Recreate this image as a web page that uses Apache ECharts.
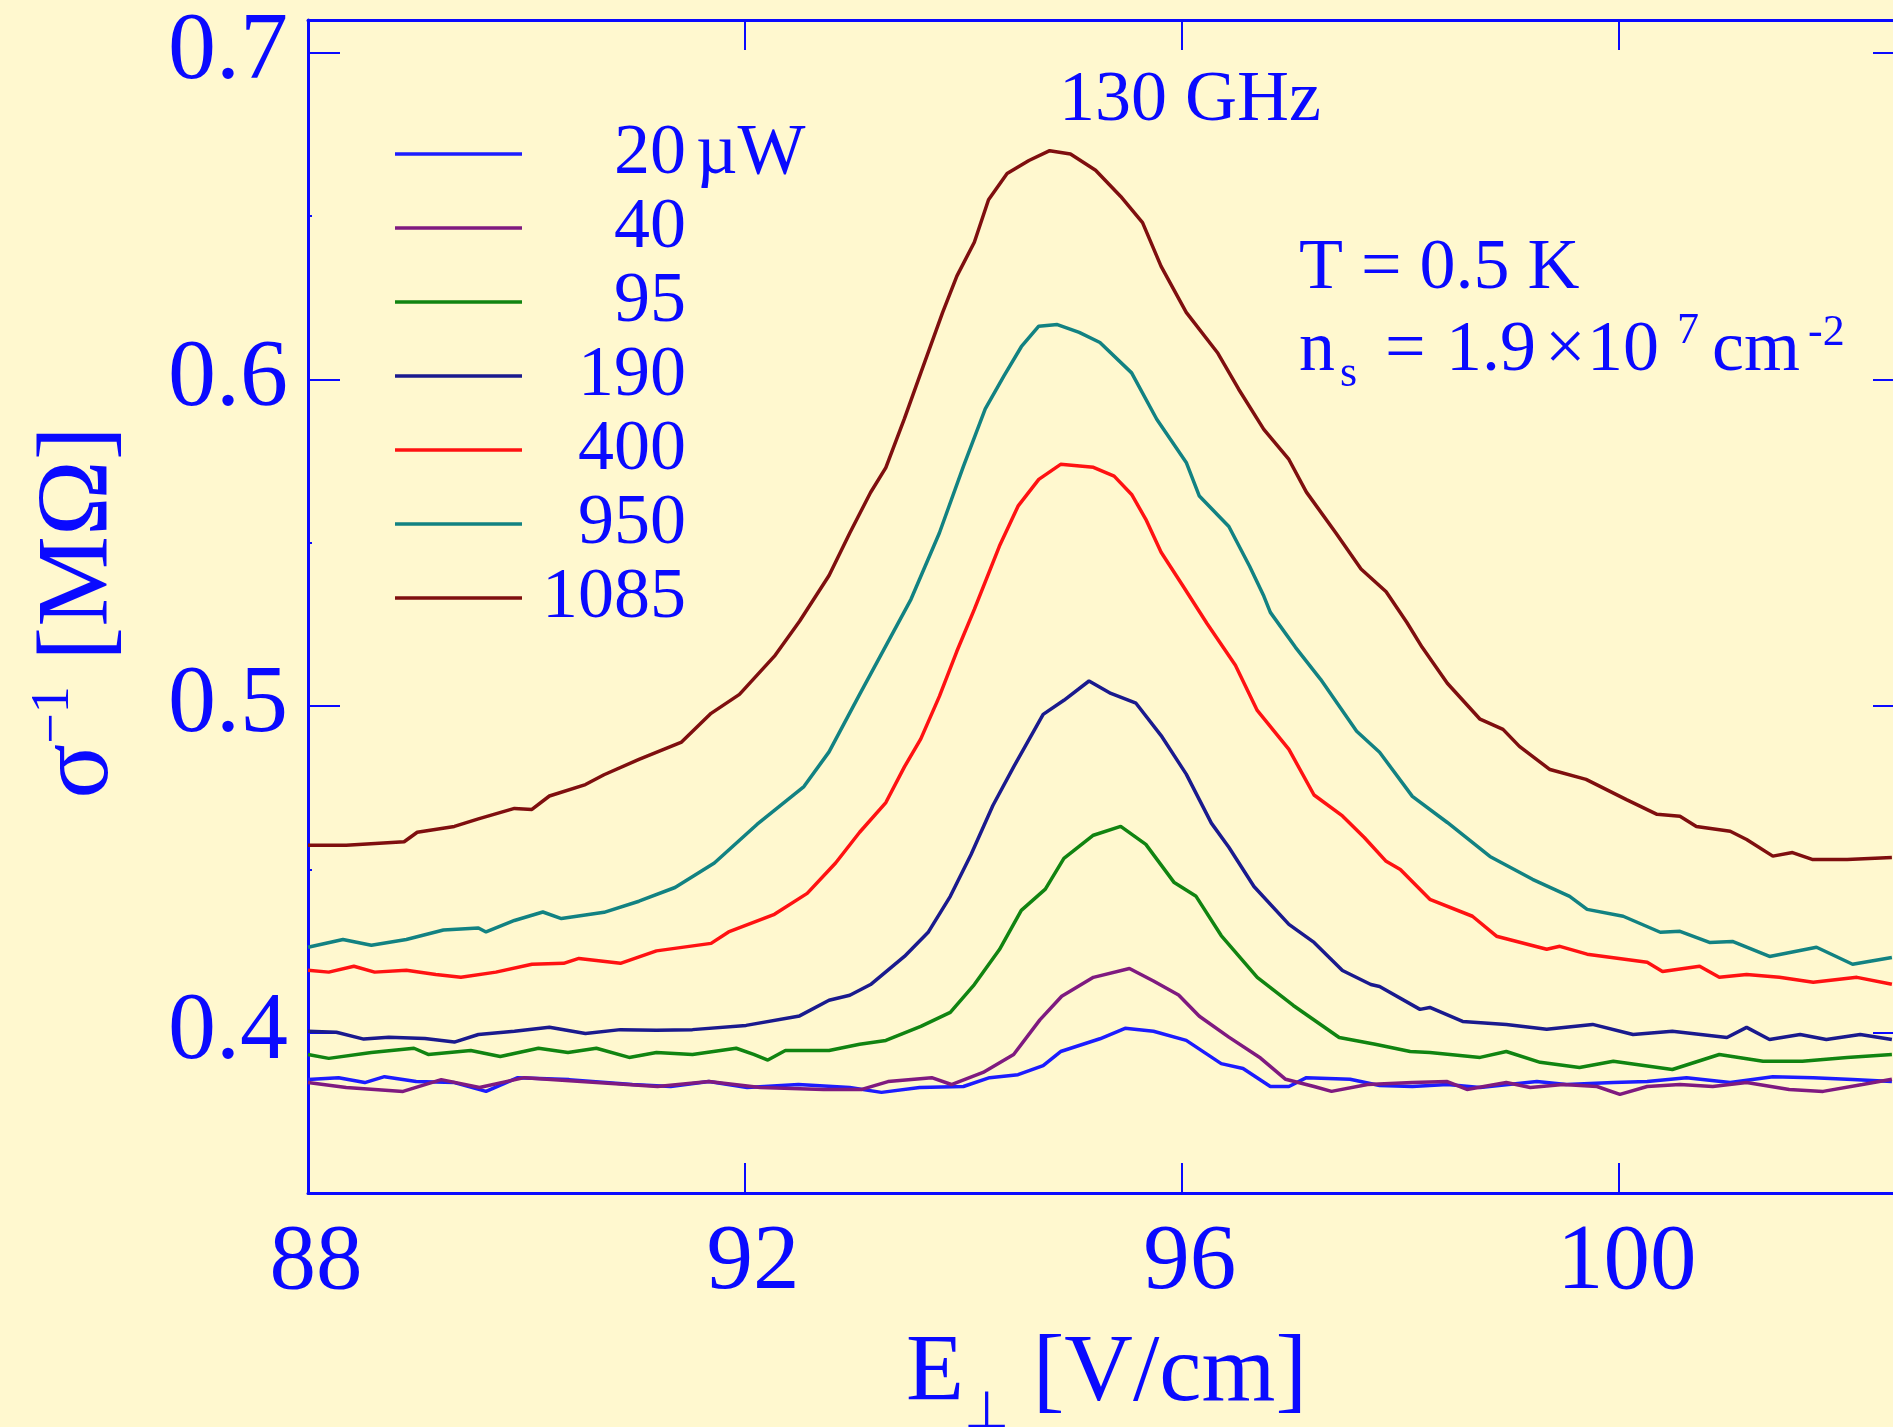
<!DOCTYPE html>
<html>
<head>
<meta charset="utf-8">
<script src="https://cdn.jsdelivr.net/npm/echarts@6/dist/echarts.min.js"></script>
<style>
  html, body { margin: 0; padding: 0; background: #fff8cf; }
  #chart { width: 1893px; height: 1427px; }
</style>
</head>
<body>
<div id="chart"></div>
<script>
// Microwave power of each trace (µW) and its line colour
const powers = ['20', '40', '95', '190', '400', '950', '1085'];
const lineColors = ['#1c1cff', '#7f1a80', '#118411', '#1a1a8e', '#ff1212', '#128282', '#7f0f0f'];

// Tick values
const xTickValues = [88, 92, 96, 100];
const yTickValues = [0.4, 0.5, 0.6, 0.7];
const yMinorValues = [0.45, 0.55, 0.65];

// [E_perp (V/cm), sigma^-1 (MOhm)] for each power
const trace20 = [[88,0.3857],[88.28,0.3863],[88.52,0.3848],[88.7,0.3866],[88.99,0.3851],[89.34,0.3848],[89.63,0.3821],[89.92,0.3863],[90.39,0.3857],[90.97,0.3842],[91.32,0.3836],[91.67,0.3851],[92.02,0.3833],[92.49,0.3842],[92.96,0.3833],[93.25,0.3818],[93.6,0.3833],[94.0,0.3836],[94.24,0.3863],[94.5,0.3872],[94.73,0.39],[94.89,0.3943],[95.25,0.3982],[95.48,0.4014],[95.74,0.4005],[96.04,0.3977],[96.36,0.3906],[96.56,0.3891],[96.81,0.3836],[96.98,0.3836],[97.14,0.3863],[97.54,0.3858],[97.81,0.3839],[98.11,0.3836],[98.43,0.3842],[98.73,0.3833],[99.25,0.3851],[99.52,0.3842],[99.95,0.3848],[100.26,0.3851],[100.62,0.3863],[101.02,0.3848],[101.41,0.3866],[101.78,0.3863],[102.14,0.3857],[102.5,0.3851]];
const trace40 = [[88,0.3848],[88.35,0.3833],[88.87,0.3821],[89.22,0.3857],[89.57,0.3833],[89.98,0.3863],[90.5,0.3851],[91.2,0.3836],[91.67,0.3851],[92.14,0.3833],[92.72,0.3827],[93.07,0.3827],[93.31,0.3851],[93.71,0.3863],[93.89,0.3842],[94.18,0.3879],[94.46,0.3934],[94.7,0.404],[94.9,0.4112],[95.19,0.417],[95.52,0.4197],[95.74,0.4159],[95.97,0.4116],[96.16,0.4051],[96.43,0.3987],[96.72,0.3923],[96.95,0.3858],[97.21,0.3836],[97.37,0.3821],[97.7,0.3842],[98.11,0.3848],[98.43,0.3851],[98.61,0.3827],[98.97,0.3848],[99.19,0.3833],[99.49,0.3842],[99.8,0.3836],[100.01,0.3812],[100.26,0.3836],[100.56,0.3842],[100.86,0.3836],[101.17,0.3848],[101.56,0.3827],[101.87,0.3821],[102.23,0.3842],[102.5,0.3858]];
const trace95 = [[88,0.3934],[88.19,0.3922],[88.58,0.394],[88.97,0.3953],[89.1,0.3934],[89.49,0.3946],[89.76,0.3928],[90.11,0.3953],[90.38,0.394],[90.64,0.3953],[90.94,0.3925],[91.19,0.394],[91.52,0.3934],[91.92,0.3953],[92.08,0.3934],[92.21,0.3917],[92.37,0.3946],[92.77,0.3946],[93.05,0.3965],[93.29,0.3977],[93.61,0.402],[93.88,0.4063],[94.1,0.4148],[94.33,0.4255],[94.53,0.4375],[94.75,0.444],[94.92,0.4534],[95.19,0.4605],[95.44,0.4632],[95.67,0.4577],[95.93,0.446],[96.13,0.4418],[96.36,0.4298],[96.69,0.417],[97.02,0.4084],[97.44,0.3986],[97.77,0.3965],[98.09,0.3943],[98.27,0.394],[98.73,0.3925],[98.97,0.3943],[99.28,0.391],[99.64,0.3894],[99.95,0.3913],[100.49,0.3888],[100.92,0.3934],[101.32,0.3913],[101.68,0.3913],[102.09,0.3925],[102.5,0.3934]];
const trace190 = [[88,0.4005],[88.26,0.4002],[88.51,0.3981],[88.74,0.3987],[89.07,0.3983],[89.34,0.3972],[89.56,0.3995],[89.89,0.4005],[90.21,0.4017],[90.54,0.3998],[90.86,0.401],[91.19,0.4008],[91.52,0.401],[92.01,0.4023],[92.5,0.4052],[92.77,0.41],[92.96,0.4115],[93.15,0.4148],[93.46,0.4234],[93.68,0.4309],[93.88,0.4418],[94.07,0.4546],[94.27,0.4696],[94.46,0.4814],[94.73,0.4975],[94.92,0.5018],[95.15,0.5077],[95.35,0.5039],[95.58,0.5009],[95.81,0.491],[96.04,0.4792],[96.27,0.4642],[96.43,0.4568],[96.66,0.4448],[96.98,0.4332],[97.21,0.4277],[97.47,0.4191],[97.73,0.4148],[97.81,0.4142],[98.18,0.4072],[98.27,0.4078],[98.57,0.4035],[98.97,0.4026],[99.34,0.4011],[99.76,0.4026],[100.13,0.3995],[100.49,0.4005],[100.99,0.3986],[101.17,0.4017],[101.38,0.398],[101.66,0.3995],[101.9,0.398],[102.21,0.3995],[102.5,0.398]];
const trace400 = [[88,0.4192],[88.19,0.4186],[88.42,0.4204],[88.61,0.4186],[88.9,0.4192],[89.17,0.4179],[89.4,0.417],[89.72,0.4186],[90.05,0.421],[90.34,0.4213],[90.48,0.4228],[90.86,0.4213],[91.19,0.4251],[91.69,0.4274],[91.85,0.4309],[92.27,0.4363],[92.57,0.4427],[92.83,0.452],[93.05,0.4614],[93.29,0.4705],[93.46,0.4814],[93.61,0.49],[93.78,0.503],[93.94,0.5168],[94.1,0.5296],[94.33,0.549],[94.5,0.5612],[94.69,0.5694],[94.89,0.574],[95.19,0.5731],[95.38,0.5704],[95.54,0.5648],[95.67,0.5572],[95.81,0.5471],[96.0,0.5373],[96.23,0.5253],[96.49,0.5125],[96.69,0.4987],[96.98,0.4868],[97.21,0.4728],[97.47,0.4664],[97.67,0.4598],[97.87,0.4525],[98.0,0.45],[98.27,0.4409],[98.66,0.4357],[98.88,0.4296],[99.34,0.4256],[99.46,0.4265],[99.71,0.4241],[100.26,0.4216],[100.4,0.4188],[100.74,0.4204],[100.92,0.417],[101.17,0.4179],[101.47,0.417],[101.78,0.4155],[102.18,0.417],[102.5,0.4149]];
const trace950 = [[88,0.4262],[88.32,0.4286],[88.58,0.4268],[88.9,0.4286],[89.24,0.4315],[89.56,0.4321],[89.63,0.4309],[89.89,0.4344],[90.15,0.437],[90.32,0.435],[90.71,0.4369],[91.03,0.4403],[91.36,0.4445],[91.72,0.452],[92.11,0.4638],[92.54,0.4754],[92.77,0.486],[93.05,0.5036],[93.52,0.5327],[93.78,0.553],[94.0,0.5734],[94.2,0.591],[94.37,0.601],[94.53,0.61],[94.69,0.6163],[94.86,0.6168],[95.06,0.6144],[95.25,0.6113],[95.54,0.602],[95.77,0.5878],[96.04,0.5746],[96.16,0.5643],[96.43,0.555],[96.62,0.5428],[96.75,0.5337],[96.81,0.5287],[97.04,0.518],[97.27,0.5082],[97.6,0.4923],[97.81,0.4859],[98.11,0.4724],[98.43,0.4644],[98.82,0.454],[99.21,0.447],[99.55,0.4418],[99.71,0.4378],[100.04,0.4357],[100.38,0.4308],[100.56,0.4311],[100.83,0.4277],[101.04,0.428],[101.38,0.4234],[101.81,0.4262],[102.14,0.421],[102.5,0.4231]];
const trace1085 = [[88,0.4574],[88.35,0.4574],[88.88,0.4585],[89.0,0.4614],[89.34,0.4632],[89.56,0.4655],[89.89,0.4687],[90.05,0.4684],[90.21,0.4725],[90.54,0.476],[90.71,0.479],[91.03,0.4837],[91.42,0.489],[91.69,0.4978],[91.95,0.5036],[92.27,0.5153],[92.5,0.526],[92.77,0.54],[92.96,0.553],[93.15,0.5654],[93.29,0.573],[93.46,0.588],[93.61,0.602],[93.81,0.6205],[93.94,0.6316],[94.1,0.642],[94.23,0.655],[94.4,0.663],[94.6,0.667],[94.79,0.67],[94.98,0.669],[95.21,0.664],[95.44,0.656],[95.64,0.648],[95.81,0.6346],[96.04,0.6205],[96.33,0.608],[96.52,0.597],[96.75,0.5847],[96.98,0.5755],[97.14,0.5655],[97.41,0.553],[97.64,0.542],[97.87,0.535],[98.06,0.5256],[98.2,0.518],[98.43,0.507],[98.73,0.496],[98.94,0.4929],[99.09,0.4877],[99.37,0.4806],[99.7,0.4776],[100.07,0.4714],[100.35,0.4669],[100.56,0.4663],[100.71,0.4632],[101.02,0.4617],[101.17,0.4592],[101.41,0.4541],[101.59,0.4552],[101.77,0.4531],[102.09,0.4531],[102.5,0.4537]];
const traces = [trace20, trace40, trace95, trace190, trace400, trace950, trace1085];

const FONT = '"Liberation Serif", "Times New Roman", serif';
const BLUE = '#0a0aff';
const X_MIN = 88, X_MAX = 102.62, Y_MIN = 0.351, Y_MAX = 0.71;

const chart = echarts.init(document.getElementById('chart'), null, { renderer: 'canvas' });

const frameLine = { show: true, onZero: false, lineStyle: { color: BLUE, width: 3 } };
const noSplit = { show: false };

// Pieces of the density annotation: [text, left, top, fontSize]
const densityParts = [
  ['n', 1299, 314.7, 72],
  ['s', 1340, 352.4, 44],
  ['=', 1385, 314.7, 72],
  ['1.9', 1446, 314.7, 72],
  ['×', 1545, 314.7, 72],
  ['10', 1587, 314.7, 72],
  ['7', 1677, 309.4, 44],
  ['cm', 1712, 314.7, 72],
  ['-2', 1808, 311.4, 44]
];

const annotations = [
  { type: 'text', left: 1059, top: 65.5, style: { text: '130 GHz', font: '72px ' + FONT, fill: BLUE } },
  { type: 'text', left: 1299, top: 233.5, style: { text: 'T = 0.5 K', font: '72px ' + FONT, fill: BLUE } }
].concat(densityParts.map(function (p) {
  return { type: 'text', left: p[1], top: p[2], style: { text: p[0], font: p[3] + 'px ' + FONT, fill: BLUE } };
}));

const option = {
  backgroundColor: '#fff8cf',
  animation: false,
  grid: { left: 308, top: 20, width: 1597, height: 1173, containLabel: false, outerBoundsMode: 'none' },
  legend: {
    orient: 'vertical',
    left: 395,
    top: 118,
    padding: 0,
    icon: 'rect',
    itemWidth: 127,
    itemHeight: 3.5,
    itemGap: 2,
    selectedMode: false,
    data: powers,
    formatter: function (name) {
      return name === powers[0] ? '{num|' + name + '}{unit|µW}' : '{num|' + name + '}';
    },
    textStyle: {
      rich: {
        num: { width: 159, align: 'right', fontFamily: FONT, fontSize: 72, color: BLUE, lineHeight: 73.5 },
        unit: { align: 'right', fontFamily: FONT, fontSize: 72, color: BLUE, lineHeight: 73.5, padding: [0, 0, 0, 10] }
      }
    }
  },
  xAxis: [
    {
      type: 'value', position: 'bottom', min: X_MIN, max: X_MAX, interval: 4,
      axisLine: frameLine,
      axisTick: { show: true, inside: true, length: 30, customValues: [92, 96, 100], lineStyle: { color: BLUE, width: 2 } },
      axisLabel: { customValues: xTickValues, color: BLUE, fontFamily: FONT, fontSize: 93, margin: 24, padding: [0, 0, 0, 16] },
      splitLine: noSplit,
      name: '{e|E}{sub|⊥}{e| [V/cm]}',
      nameLocation: 'middle',
      nameGap: 117,
      nameTextStyle: {
        rich: {
          e: { fontFamily: FONT, fontSize: 95, color: BLUE, lineHeight: 130 },
          sub: { fontFamily: FONT, fontSize: 52, color: BLUE, lineHeight: 4, verticalAlign: 'bottom' }
        }
      }
    },
    {
      type: 'value', position: 'top', min: X_MIN, max: X_MAX, interval: 4,
      axisLine: frameLine,
      axisTick: { show: true, inside: true, length: 30, customValues: [92, 96, 100], lineStyle: { color: BLUE, width: 2 } },
      axisLabel: { show: false },
      splitLine: noSplit
    }
  ],
  yAxis: [
    {
      type: 'value', position: 'left', min: Y_MIN, max: Y_MAX,
      axisLine: frameLine,
      axisTick: { show: true, inside: true, length: 32, customValues: yTickValues, lineStyle: { color: BLUE, width: 2 } },
      axisLabel: {
        customValues: yTickValues, color: BLUE, fontFamily: FONT, fontSize: 96, margin: 20,
        formatter: function (v) { return v.toFixed(1); }
      },
      splitLine: noSplit,
      name: '{s|σ}{sup|−1}{s| [MΩ]}',
      nameLocation: 'middle',
      nameRotate: 90,
      nameGap: 175,
      nameTextStyle: {
        padding: [0, 12, 0, 0],
        rich: {
          s: { fontFamily: FONT, fontSize: 102, color: BLUE, lineHeight: 106 },
          sup: { fontFamily: FONT, fontSize: 54, color: BLUE, lineHeight: 42, verticalAlign: 'top' }
        }
      }
    },
    {
      type: 'value', position: 'right', min: Y_MIN, max: Y_MAX,
      axisLine: frameLine,
      axisTick: { show: true, inside: true, length: 32, customValues: yTickValues, lineStyle: { color: BLUE, width: 2 } },
      axisLabel: { show: false },
      splitLine: noSplit
    },
    {
      type: 'value', position: 'left', min: Y_MIN, max: Y_MAX,
      axisLine: { show: false },
      axisTick: { show: true, inside: true, length: 4, customValues: yMinorValues, lineStyle: { color: BLUE, width: 2 } },
      axisLabel: { show: false },
      splitLine: noSplit
    }
  ],
  graphic: annotations,
  series: traces.map(function (data, i) {
    return {
      name: powers[i],
      type: 'line',
      xAxisIndex: 0,
      yAxisIndex: 0,
      data: data,
      color: lineColors[i],
      showSymbol: false,
      symbol: 'none',
      smooth: false,
      lineStyle: { width: 3.5, color: lineColors[i] },
      clip: true
    };
  })
};

chart.setOption(option);
</script>
</body>
</html>
